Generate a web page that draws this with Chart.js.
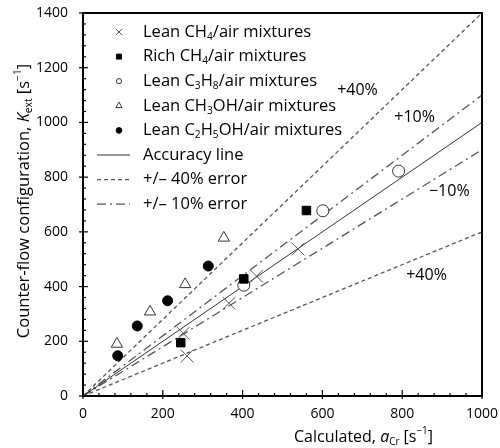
<!DOCTYPE html>
<html>
<head>
<meta charset="utf-8">
<script src="https://cdn.jsdelivr.net/npm/chart.js@4.4.1/dist/chart.umd.min.js"></script>
<style>
  html, body { margin: 0; padding: 0; background: #fff; }
  #wrap { width: 500px; height: 448px; }
</style>
</head>
<body>
<div id="wrap"><canvas id="chart" width="500" height="448"></canvas></div>
<script>
// Data
const leanCH4 = [[261, 146], [251, 229], [366, 339], [435, 438], [539, 537]];
const richCH4 = [[245, 195], [403, 428], [560, 678]];
const leanC3H8 = [[403, 405], [601, 677], [791, 822]];
const leanCH3OH = [[85, 190], [168, 308], [256, 408], [353, 578]];
const leanC2H5OH = [[87, 147], [136, 256], [212, 348], [314, 475]];

// reference lines: y = slope * x
const lineSlopes = [1.0, 1.4, 0.6, 1.1, 0.9];
const xTicks = [0, 200, 400, 600, 800, 1000];
const yTicks = [0, 200, 400, 600, 800, 1000, 1200, 1400];

// line labels, in data units
const lineLabels = [
  { text: '+40%', x: 688, y: 1118 },
  { text: '+10%', x: 831, y: 1020 },
  { text: '\u221210%', x: 918, y: 746 },
  { text: '+40%', x: 861, y: 442 }
];

const FONT = '"Open Sans", "Noto Sans", sans-serif';

function toXY(arr) {
  return arr.map(p => ({ x: p[0], y: p[1] }));
}
function lineData(slope) {
  return [{ x: 0, y: 0 }, { x: 1000, y: 1000 * slope }];
}

const styles = [
  { label: 'Lean CH4', pointStyle: 'crossRot', radius: 9, bg: 'transparent', border: '#555', bw: 1 },
  { label: 'Rich CH4', pointStyle: 'rect', radius: 6, bg: '#000', border: '#000', bw: 1 },
  { label: 'Lean C3H8', pointStyle: 'circle', radius: 6, bg: '#fff', border: '#333', bw: 1 },
  { label: 'Lean CH3OH', pointStyle: 'triangle', radius: 6.5, bg: '#fff', border: '#333', bw: 1 },
  { label: 'Lean C2H5OH', pointStyle: 'circle', radius: 5, bg: '#000', border: '#000', bw: 1 }
];
const series = [leanCH4, richCH4, leanC3H8, leanCH3OH, leanC2H5OH];

const lineStyles = [
  { color: '#333', dash: [], width: 1 },
  { color: '#555', dash: [4, 3], width: 1.3 },
  { color: '#555', dash: [4, 3], width: 1.3 },
  { color: '#555', dash: [9, 4, 2, 4], width: 1.3 },
  { color: '#555', dash: [9, 4, 2, 4], width: 1.3 }
];

const datasets = [];
series.forEach((s, i) => {
  const st = styles[i];
  datasets.push({
    label: st.label,
    data: toXY(s),
    pointStyle: st.pointStyle,
    pointRadius: st.radius,
    pointHoverRadius: st.radius,
    backgroundColor: st.bg,
    borderColor: st.border,
    borderWidth: st.bw,
    showLine: false,
    order: 1
  });
});
lineSlopes.forEach((k, i) => {
  const ls = lineStyles[i];
  datasets.push({
    label: 'line' + k,
    data: lineData(k),
    showLine: true,
    pointRadius: 0,
    borderColor: ls.color,
    borderDash: ls.dash,
    borderWidth: ls.width,
    fill: false,
    order: 5
  });
});

// draw text with sub/superscripts: segments [text, kind] kind: '', 'sub', 'sup', 'it'
function fontFor(kind, size) {
  if (kind === 'sub' || kind === 'sup') return (size * 0.62).toFixed(1) + 'px ' + FONT;
  if (kind === 'it') return 'italic ' + size + 'px ' + FONT;
  return size + 'px ' + FONT;
}
function richWidth(ctx, segs, size) {
  let w = 0;
  segs.forEach(s => {
    ctx.font = fontFor(s[1], size);
    w += ctx.measureText(s[0]).width;
  });
  return w;
}
function drawRich(ctx, segs, x, y, size) {
  ctx.textBaseline = 'middle';
  ctx.textAlign = 'left';
  let cx = x;
  segs.forEach(s => {
    ctx.font = fontFor(s[1], size);
    let dy = 0;
    if (s[1] === 'sub') dy = size * 0.3;
    if (s[1] === 'sup') dy = -size * 0.35;
    ctx.fillText(s[0], cx, y + dy);
    cx += ctx.measureText(s[0]).width;
  });
}

const legendItems = [
  { marker: 0, segs: [['Lean CH', ''], ['4', 'sub'], ['/air mixtures', '']] },
  { marker: 1, segs: [['Rich CH', ''], ['4', 'sub'], ['/air mixtures', '']] },
  { marker: 2, segs: [['Lean C', ''], ['3', 'sub'], ['H', ''], ['8', 'sub'], ['/air mixtures', '']] },
  { marker: 3, segs: [['Lean CH', ''], ['3', 'sub'], ['OH/air mixtures', '']] },
  { marker: 4, segs: [['Lean C', ''], ['2', 'sub'], ['H', ''], ['5', 'sub'], ['OH/air mixtures', '']] },
  { line: 0, segs: [['Accuracy line', '']] },
  { line: 1, segs: [['+/\u2013 40% error', '']] },
  { line: 3, segs: [['+/\u2013 10% error', '']] }
];
const legendMarkerSizes = [4.5, 3.5, 2.6, 3.6, 2.8];

const decorPlugin = {
  id: 'decor',
  beforeDatasetsDraw(chart) {
    const ctx = chart.ctx;
    const xs = chart.scales.x, ys = chart.scales.y;
    const a = chart.chartArea;
    ctx.save();
    ctx.strokeStyle = '#000';
    ctx.lineWidth = 1.2;
    for (let v = 0; v <= 1000; v += 40) {
      const px = xs.getPixelForValue(v);
      const major = v % 200 === 0;
      ctx.beginPath();
      ctx.moveTo(px, a.bottom + (major ? 3 : 0));
      ctx.lineTo(px, a.bottom - (major ? 6 : 3));
      ctx.stroke();
    }
    for (let v = 0; v <= 1400; v += 40) {
      const py = ys.getPixelForValue(v);
      const major = v % 200 === 0;
      ctx.beginPath();
      ctx.moveTo(a.left - (major ? 4 : 0), py);
      ctx.lineTo(a.left + (major ? 5 : 3), py);
      ctx.stroke();
    }
    ctx.restore();
  },
  afterDatasetsDraw(chart) {
    const ctx = chart.ctx;
    const xs = chart.scales.x, ys = chart.scales.y;
    const a = chart.chartArea;
    ctx.save();
    ctx.strokeStyle = '#000';
    ctx.lineWidth = 2;
    ctx.strokeRect(a.left, a.top, a.right - a.left, a.bottom - a.top);

    ctx.fillStyle = '#000';
    ctx.font = '16px ' + FONT;
    ctx.textAlign = 'center';
    ctx.textBaseline = 'middle';
    lineLabels.forEach(l => {
      ctx.fillText(l.text, xs.getPixelForValue(l.x), ys.getPixelForValue(l.y));
    });

    // legend
    const rowY0 = a.top + 19, rowH = 24.6;
    legendItems.forEach((it, i) => {
      const y = rowY0 + i * rowH;
      if (it.marker !== undefined) {
        const st = styles[it.marker];
        ctx.save();
        ctx.fillStyle = st.bg;
        ctx.strokeStyle = st.border;
        ctx.lineWidth = 1;
        Chart.helpers.drawPoint(ctx, {
          pointStyle: st.pointStyle,
          radius: legendMarkerSizes[it.marker],
          rotation: 0,
          borderWidth: 1
        }, 119, y);
        ctx.restore();
      } else {
        const ls = lineStyles[it.line];
        ctx.save();
        ctx.strokeStyle = ls.color;
        ctx.lineWidth = ls.width;
        ctx.setLineDash(ls.dash);
        ctx.beginPath();
        ctx.moveTo(97, y);
        ctx.lineTo(130, y);
        ctx.stroke();
        ctx.restore();
      }
      ctx.fillStyle = '#000';
      drawRich(ctx, it.segs, 143, y, 16.5);
    });

    // axis titles
    const xTitle = [['Calculated, ', ''], ['a', 'it'], ['Cr', 'sub'], [' [s', ''], ['\u22121', 'sup'], [']', '']];
    const wx = richWidth(ctx, xTitle, 16);
    drawRich(ctx, xTitle, 433 - wx, 437, 16);

    const yTitle = [['Counter-flow configuration, ', ''], ['K', 'it'], ['ext', 'sub'], [' [s', ''], ['\u22121', 'sup'], [']', '']];
    const wy = richWidth(ctx, yTitle, 16.5);
    ctx.translate(24, 201);
    ctx.rotate(-Math.PI / 2);
    drawRich(ctx, yTitle, -wy / 2, 0, 16.5);
    ctx.restore();
  }
};

new Chart(document.getElementById('chart'), {
  type: 'scatter',
  data: { datasets: datasets },
  options: {
    responsive: false,
    animation: false,
    layout: { padding: { top: 13, right: 18, left: 0, bottom: 0 } },
    plugins: {
      legend: { display: false },
      tooltip: { enabled: false }
    },
    scales: {
      x: {
        type: 'linear',
        min: 0,
        max: 1000,
        afterBuildTicks(scale) { scale.ticks = xTicks.map(v => ({ value: v })); },
        afterFit(scale) {
          scale.height = 52;
          scale.paddingLeft = 0;
          scale.paddingRight = 0;
        },
        grid: { display: false, drawTicks: false },
        border: { display: false },
        ticks: {
          color: '#000', padding: 10, maxRotation: 0,
          font: { family: FONT, size: 14 },
          callback: v => String(v)
        }
      },
      y: {
        type: 'linear',
        min: 0,
        max: 1400,
        afterBuildTicks(scale) { scale.ticks = yTicks.map(v => ({ value: v })); },
        afterFit(scale) {
          scale.width = 83;
          scale.paddingTop = 0;
          scale.paddingBottom = 0;
        },
        grid: { display: false, drawTicks: false },
        border: { display: false },
        ticks: {
          color: '#000', padding: 15,
          font: { family: FONT, size: 14 },
          callback: v => String(v)
        }
      }
    }
  },
  plugins: [decorPlugin]
});
</script>
</body>
</html>
